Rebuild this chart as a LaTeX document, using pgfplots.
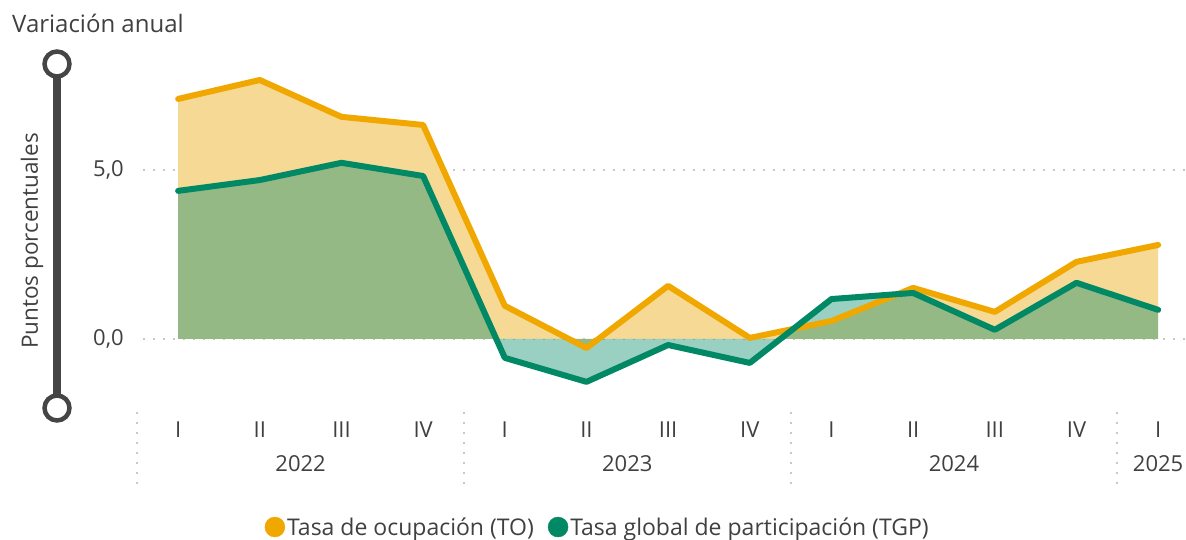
\documentclass[border=0pt]{standalone}
\usepackage{fontspec}
\setmainfont{Open Sans}
\usepackage{pgfplots}
\pgfplotsset{compat=1.18}
\definecolor{orln}{RGB}{240,168,0}
\definecolor{orfill}{RGB}{247,217,150}
\definecolor{grln}{RGB}{0,137,100}
\definecolor{grfill}{RGB}{12,143,110}
\definecolor{txt}{RGB}{64,64,64}
\definecolor{barc}{RGB}{69,69,69}
\definecolor{dotc}{RGB}{200,200,200}
\newcommand{\lbl}{\fontsize{22}{26}\selectfont}
\newcommand{\lgd}{\fontsize{23}{27}\selectfont}
\begin{document}
\begin{tikzpicture}
\path[use as bounding box] (0,0) rectangle (1186pt,-540pt);
% title and y label
\node[anchor=base west, inner sep=0pt, text=txt, font=\fontsize{24}{28}\selectfont] at (12pt,-33pt) {Variación anual};
\node[rotate=90, inner sep=0pt, text=txt, font=\fontsize{22.5}{26}\selectfont] at (32pt,-241pt) {Puntos porcentuales};
% slider decoration
\draw[barc, line width=8pt] (57pt,-65pt) -- (57pt,-408pt);
\draw[barc, line width=4.5pt, fill=white] (57pt,-64pt) circle (12.5pt);
\draw[barc, line width=4.5pt, fill=white] (57pt,-408pt) circle (12.5pt);
\begin{axis}[
  at={(143pt,-393pt)}, anchor=south west,
  scale only axis, width=1042.9pt, height=324.5pt,
  xmin=-0.43, xmax=12.34, ymin=-1.6, ymax=8,
  axis line style={draw=none},
  major tick length=0pt,
  xtick={0,...,12},
  xticklabels={I,II,III,IV,I,II,III,IV,I,II,III,IV,I},
  ytick={0,5},
  yticklabels={{0,0},{5,0}},
  ymajorgrids,
  grid style={dotc, line width=2pt, dash pattern=on 2pt off 8pt},
  tick label style={font=\lbl, text=txt},
  xticklabel style={anchor=center, yshift=-37pt},
  yticklabel style={anchor=east, inner sep=0pt, xshift=-19pt},
  clip=false,
  legend style={at={(0.436,-0.413)}, anchor=center, draw=none, fill=none,
    legend columns=2, font=\lgd, text=txt,
    /tikz/every even column/.append style={column sep=12pt}},
  legend image code/.code={\fill[#1] (0pt,0pt) circle (10pt);},
]
% areas
\addplot[draw=none, fill=orfill, forget plot] coordinates {
 (0,0) (0,7.10) (1,7.66) (2,6.57) (3,6.33) (4,0.98) (5,-0.27) (6,1.57) (7,0.03)
 (8,0.53) (9,1.51) (10,0.80) (11,2.28) (12,2.78) (12,0)} -- cycle;
\addplot[draw=none, fill=grfill, fill opacity=0.42, forget plot] coordinates {
 (0,0) (0,4.38) (1,4.70) (2,5.21) (3,4.82) (4,-0.56) (5,-1.27) (6,-0.18) (7,-0.71)
 (8,1.18) (9,1.36) (10,0.27) (11,1.66) (12,0.86) (12,0)} -- cycle;
% lines
\addplot[orln, line width=6pt, line join=round, line cap=round, forget plot] coordinates {
 (0,7.10) (1,7.66) (2,6.57) (3,6.33) (4,0.98) (5,-0.27) (6,1.57) (7,0.03)
 (8,0.53) (9,1.51) (10,0.80) (11,2.28) (12,2.78)};
\addplot[grln, line width=6pt, line join=round, line cap=round, forget plot] coordinates {
 (0,4.38) (1,4.70) (2,5.21) (3,4.82) (4,-0.56) (5,-1.27) (6,-0.18) (7,-0.71)
 (8,1.18) (9,1.36) (10,0.27) (11,1.66) (12,0.86)};
% legend
\addlegendimage{orln}
\addlegendentry{Tasa de ocupación (TO)}
\addlegendimage{grln}
\addlegendentry{Tasa global de participación (TGP)}
% separators
\draw[dotc, line width=2pt, dash pattern=on 2pt off 8pt] (axis cs:-0.5,-2.16) -- (axis cs:-0.5,-4.32);
\draw[dotc, line width=2pt, dash pattern=on 2pt off 8pt] (axis cs:3.5,-2.16) -- (axis cs:3.5,-4.32);
\draw[dotc, line width=2pt, dash pattern=on 2pt off 8pt] (axis cs:7.5,-2.16) -- (axis cs:7.5,-4.32);
\draw[dotc, line width=2pt, dash pattern=on 2pt off 8pt] (axis cs:11.5,-2.16) -- (axis cs:11.5,-4.32);
% year labels
\node[font=\lbl, text=txt] at (axis cs:1.5,-3.70) {2022};
\node[font=\lbl, text=txt] at (axis cs:5.5,-3.70) {2023};
\node[font=\lbl, text=txt] at (axis cs:9.5,-3.70) {2024};
\node[font=\lbl, text=txt] at (axis cs:12,-3.70) {2025};
\end{axis}
\end{tikzpicture}
\end{document}
